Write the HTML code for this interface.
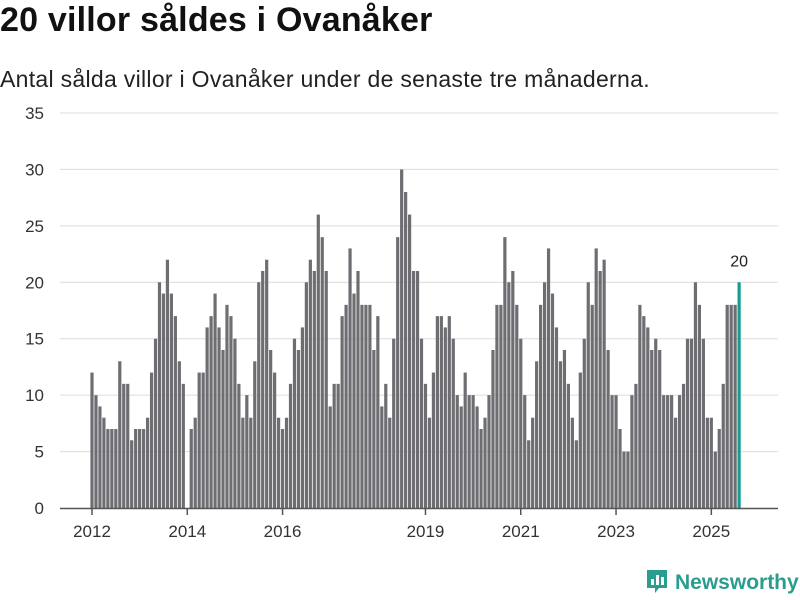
<!DOCTYPE html>
<html><head><meta charset="utf-8"><style>
body{margin:0;background:#fff;font-family:"Liberation Sans",sans-serif;}
#wrap{position:relative;width:800px;height:600px;overflow:hidden;}
h1{position:absolute;left:0;top:1px;margin:0;font-size:34px;font-weight:bold;color:#111;letter-spacing:0.2px;}
.sub{position:absolute;left:0;top:66px;font-size:23px;color:#222;letter-spacing:0.3px;}
.logo{position:absolute;left:645px;top:568px;font-size:21px;font-weight:bold;color:#2a9d8f;}
</style></head><body>
<div id="wrap">
<h1>20 villor såldes i Ovanåker</h1>
<div class="sub">Antal sålda villor i Ovanåker under de senaste tre månaderna.</div>
<svg id="chart" width="800" height="600" style="position:absolute;left:0;top:0"></svg>
<div class="logo"><svg width="24" height="26" style="vertical-align:-5px;margin-right:6px"><path d="M2 2h20v18h-8l-4 5v-5H2z" fill="#2a9d8f"/><rect x="6" y="11" width="3" height="6" fill="#fff"/><rect x="11" y="7" width="3" height="10" fill="#fff"/><rect x="16" y="9" width="3" height="8" fill="#fff"/></svg>Newsworthy</div>
</div>
<script>
const values = [12,10,9,8,7,7,7,13,11,11,6,7,7,7,8,12,15,20,19,22,19,17,13,11,
0,7,8,12,12,16,17,19,
16,14,18,17,15,11,8,10,8,13,20,21,22,14,12,8,7,8,11,15,14,16,20,22,21,26,24,21,9,11,11,17,18,23,19,21,
18,18,18,14,17,9,11,8,15,24,30,28,26,21,21,15,11,8,12,17,17,16,17,15,10,9,12,10,10,9,7,8,10,14,
18,18,24,20,21,18,15,10,6,8,13,18,20,23,19,16,13,14,11,8,6,12,15,20,18,23,21,22,14,10,10,7,5,5,
10,11,18,17,16,14,15,14,10,10,10,8,10,11,15,15,20,18,15,8,8,5,7,11,18,18,18,20];
const yTicks = [0,5,10,15,20,25,30,35];
const xTickLabels = ["2012","2014","2016","2019","2021","2023","2025"];
const xTickIndex = [0,24,48,84,108,132,156];
const svg = document.getElementById('chart');
const NS = 'http://www.w3.org/2000/svg';
const x = i => 92 + i * 3.97;
const y = v => 508 - v * (395 / 35);
function mk(tag, attrs){const e=document.createElementNS(NS,tag);for(const k in attrs)e.setAttribute(k,attrs[k]);svg.appendChild(e);return e;}
yTicks.forEach(t=>{
  if(t>0){const g=mk('line',{x1:60,x2:778,y1:y(t),y2:y(t),stroke:'#dcdcdc','stroke-width':1});
  
  }
  const l=mk('text',{x:44,y:y(t)+6,'text-anchor':'end','font-size':17,fill:'#333','font-family':'Liberation Sans, sans-serif'});
  l.textContent=t;
  
  
});
values.forEach((v,i)=>{
  const last = i===values.length-1;
  const r=mk('rect',{x:x(i)-1.6,y:y(v),width:3.2,height:508-y(v),fill:last?'#159c92':'#6e6d72'});
  
  
  if(last){const t=mk('text',{x:x(i),y:y(v)-16,'text-anchor':'middle','font-size':16,fill:'#222','font-family':'Liberation Sans, sans-serif'});
    t.textContent=v;
    
    }
});
const ax=mk('line',{x1:60,x2:778,y1:508.5,y2:508.5,stroke:'#555','stroke-width':1.5});


xTickIndex.forEach((ti,k)=>{
  const tk=mk('line',{x1:x(ti),x2:x(ti),y1:508,y2:515,stroke:'#555','stroke-width':1.5});
  
  
  const l=mk('text',{x:x(ti),y:537,'text-anchor':'middle','font-size':17,fill:'#333','font-family':'Liberation Sans, sans-serif'});
  l.textContent=xTickLabels[k];
  
  
});
</script>
</body></html>
